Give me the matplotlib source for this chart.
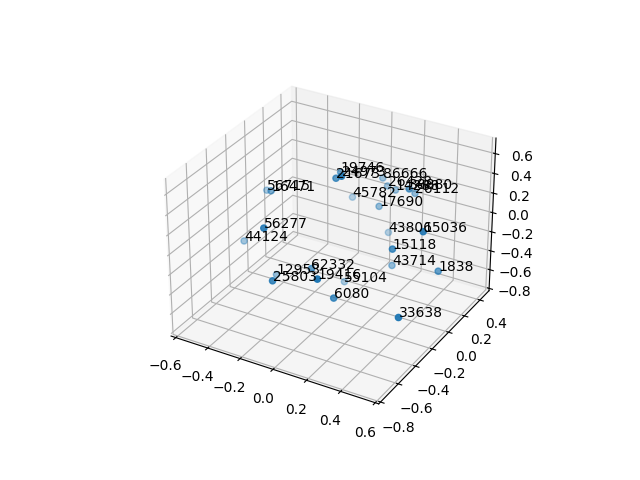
import matplotlib
matplotlib.use('Agg')
import matplotlib.pyplot as plt

labels = ['19746', '24973', '21673', '86666', '26428', '14288', '38880', '26112', '45782', '17690',
          '43806', '15036', '15118', '56277', '44124', '56715', '16471', '62332', '12953', '25803',
          '19416', '55104', '6080', '33638', '43714', '1838']
x = [-0.13, 0.11, -0.03, -0.04, -0.01, 0.04, 0.28, 0.17, -0.23, 0.02, 0.0, 0.53, 0.35,
     -0.18, -0.61, -0.61, -0.43, -0.06, -0.37, -0.11, 0.19, -0.11, 0.15, 0.56, 0.16, 0.52]
y = [0.17, -0.27, -0.07, 0.5, 0.5, 0.5, 0.18, 0.48, 0.5, 0.34, 0.5, -0.16, -0.15,
     -0.58, -0.07, 0.19, -0.07, -0.29, -0.13, -0.62, -0.68, 0.18, -0.43, -0.49, 0.23, 0.06]
z = [0.33, 0.72, 0.49, 0.07, 0.0, -0.02, 0.34, 0.02, -0.22, -0.08, -0.49, 0.29, 0.02,
     0.31, -0.43, -0.09, 0.18, -0.27, -0.62, -0.15, 0.07, -0.82, -0.35, -0.28, -0.55, -0.29]

fig = plt.figure()
ax = fig.add_subplot(projection='3d')
ax.scatter(x, y, z)
for i in range(len(labels)):
    ax.text(x[i], y[i], z[i], labels[i])

ax.set_xlim(-0.63, 0.62)
ax.set_ylim(-0.82, 0.52)
ax.set_zlim(-0.825, 0.755)
plt.savefig('out.png')
